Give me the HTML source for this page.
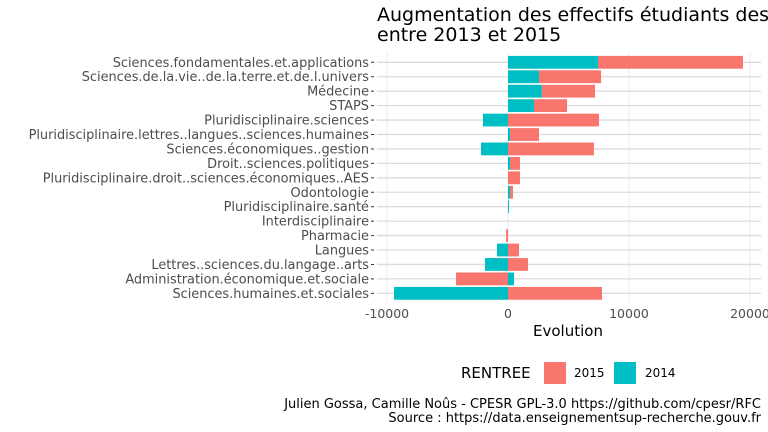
<!DOCTYPE html>
<html><head><meta charset="utf-8"><style>
body{margin:0;background:#fff;}
svg{display:block;font-family:"DejaVu Sans","Liberation Sans",sans-serif;}
</style></head><body>
<svg id="chart" width="768" height="432">
<text x="377" y="21" font-size="19" fill="#000">Augmentation des effectifs étudiants des</text>
<text x="377" y="41" font-size="19" fill="#000">entre 2013 et 2015</text>
<g id="grid"></g><g id="bars"></g><g id="ylabels"></g><g id="xticks"></g>
<text x="568" y="336" font-size="15" text-anchor="middle" fill="#000">Evolution</text>
<g>
<text x="461" y="378" font-size="15" fill="#000">RENTREE</text>
<rect x="544" y="362" width="22" height="22" fill="#F8766D"/>
<text x="574" y="377" font-size="12" fill="#000">2015</text>
<rect x="614" y="362" width="22" height="22" fill="#00BFC4"/>
<text x="645" y="377" font-size="12" fill="#000">2014</text>
</g>
<text x="761" y="408" font-size="13" text-anchor="end" fill="#000">Julien Gossa, Camille Noûs - CPESR GPL-3.0 https://github.com/cpesr/RFC</text>
<text x="761" y="422" font-size="13" text-anchor="end" fill="#000">Source : https://data.enseignementsup-recherche.gouv.fr</text>
</svg>
<script>
const categories=["Sciences.fondamentales.et.applications","Sciences.de.la.vie..de.la.terre.et.de.l.univers","Médecine","STAPS","Pluridisciplinaire.sciences","Pluridisciplinaire.lettres..langues..sciences.humaines","Sciences.économiques..gestion","Droit..sciences.politiques","Pluridisciplinaire.droit..sciences.économiques..AES","Odontologie","Pluridisciplinaire.santé","Interdisciplinaire","Pharmacie","Langues","Lettres..sciences.du.langage..arts","Administration.économique.et.sociale","Sciences.humaines.et.sociales"];
const values2014=[7440,2560,2800,2150,-2070,170,-2230,170,0,170,80,0,0,-910,-1900,500,-9420];
const values2015=[11980,5130,4390,2730,7520,2390,7100,820,990,240,0,0,-160,910,1650,-4300,7770];
const xTicks=[-10000,0,10000,20000];
const xTickLabels=["-10000","0","10000","20000"];
const NS="http://www.w3.org/2000/svg";
const x0=508, kx=0.0121, y0=62.3, dy=14.44, bh=12.8, left=377, right=761;
const X=v=>x0+v*kx, Y=i=>y0+i*dy;
function mk(tag,attrs,parent){const e=document.createElementNS(NS,tag);for(const k in attrs)e.setAttribute(k,attrs[k]);document.getElementById(parent).appendChild(e);return e;}
xTicks.forEach((t,i)=>{
 const l=mk('line',{x1:X(t),x2:X(t),y1:52,y2:303,stroke:'#ebebeb','stroke-width':1},'grid');
 
 
 const tx=mk('text',{x:X(t),y:318,'font-size':12.5,'text-anchor':'middle',fill:'#4d4d4d'},'xticks');
 tx.textContent=xTickLabels[i];
 
 
});
categories.forEach((c,i)=>{
 const y=Y(i);
 const g=mk('line',{x1:left,x2:right,y1:y,y2:y,stroke:'#dcdcdc','stroke-width':1.3},'grid');
 
 
 const tk=mk('line',{x1:371,x2:374,y1:y,y2:y,stroke:'#333','stroke-width':1},'ylabels');
 
 
 const t=mk('text',{x:369,y:y+4.5,'font-size':12.9,'text-anchor':'end',fill:'#4d4d4d'},'ylabels');
 t.textContent=c;
 
 
 let pos=0,neg=0;
 [[values2014[i],'#00BFC4','2014'],[values2015[i],'#F8766D','2015']].forEach(([v,col,yr])=>{
  if(v===0)return;
  let a,b;
  if(v>0){a=pos;b=pos+v;pos=b;}else{a=neg;b=neg+v;neg=b;}
  const r=mk('rect',{x:Math.min(X(a),X(b)),y:y-bh/2,width:Math.abs(X(b)-X(a)),height:bh,fill:col},'bars');
  
  
 });
});
</script>
</body></html>
